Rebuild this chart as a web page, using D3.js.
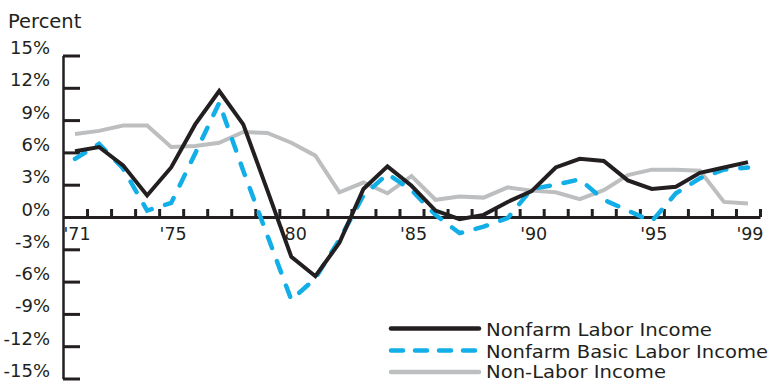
<!DOCTYPE html>
<html>
<head>
<meta charset="utf-8">
<script src="https://cdn.jsdelivr.net/npm/d3@7"></script>
<style>
  html, body { margin: 0; padding: 0; background: #fff; }
  svg { display: block; }
  text { font-family: "DejaVu Sans", sans-serif; fill: #231f20; }
</style>
</head>
<body>
<svg id="chart" width="773" height="382"></svg>
<script>
// ---- data ----
const years = [1971, 1972, 1973, 1974, 1975, 1976, 1977, 1978, 1979, 1980,
               1981, 1982, 1983, 1984, 1985, 1986, 1987, 1988, 1989, 1990,
               1991, 1992, 1993, 1994, 1995, 1996, 1997, 1998, 1999];
const nonfarmLabor = [6.1, 6.5, 4.8, 2.0, 4.6, 8.6, 11.7, 8.6, 2.5, -3.7,
                      -5.5, -2.4, 2.6, 4.7, 2.9, 0.6, -0.2, 0.2, 1.4, 2.4,
                      4.6, 5.4, 5.2, 3.4, 2.6, 2.8, 4.1, 4.6, 5.1];
const nonfarmBasic = [5.4, 6.8, 4.5, 0.6, 1.3, 5.9, 10.6, 4.3, -1.7, -7.7,
                      -5.7, -2.1, 2.0, 4.0, 2.5, 0.2, -1.5, -0.9, -0.1, 2.6,
                      3.0, 3.5, 1.6, 0.6, -0.4, 2.2, 3.6, 4.4, 4.6];
const nonLabor = [7.7, 8.0, 8.5, 8.5, 6.5, 6.6, 6.9, 7.9, 7.8, 6.9,
                  5.7, 2.3, 3.2, 2.2, 3.8, 1.6, 1.9, 1.8, 2.75, 2.45,
                  2.3, 1.65, 2.5, 3.9, 4.4, 4.4, 4.3, 1.4, 1.25];
const yTickValues = [15, 12, 9, 6, 3, 0, -3, -6, -9, -12, -15];
const xLabelYears = [1971, 1975, 1980, 1985, 1990, 1995, 1999];
const xLabels = ["'71", "'75", "'80", "'85", "'90", "'95", "'99"];
const seriesNames = ["Nonfarm Labor Income", "Nonfarm Basic Labor Income", "Non-Labor Income"];
const yAxisTitle = "Percent";

// ---- layout ----
const ink = "#231f20";
const colors = { labor: "#231f20", basic: "#12aee8", non: "#bdbec0" };
const svg = d3.select("#chart");

const x = d3.scaleLinear().domain([1971, 2000]).range([63, 760]);
const y = d3.scaleLinear().domain([-15, 15]).range([378.5, 55.5]);

// y axis
const yAxis = svg.append("g")
  .attr("transform", "translate(63,0)")
  .call(d3.axisLeft(y).tickValues(yTickValues).tickSizeInner(-17).tickSizeOuter(0)
    .tickPadding(13).tickFormat(d => d + "%"));
yAxis.select(".domain").attr("stroke", ink).attr("stroke-width", 2.5);
yAxis.selectAll(".tick line").attr("stroke", ink).attr("stroke-width", 3);
yAxis.selectAll(".tick text").attr("dy", "-2px").attr("font-size", 18)
  .attr("font-family", "DejaVu Sans").attr("fill", ink);

// x axis (through zero)
const xTickVals = d3.range(1972, 2001);
const xAxis = svg.append("g")
  .attr("transform", `translate(0,${y(0)})`)
  .call(d3.axisBottom(x).tickValues(xTickVals).tickSizeInner(-8).tickSizeOuter(0).tickFormat(""));
xAxis.select(".domain").attr("stroke", ink).attr("stroke-width", 3);
xAxis.selectAll(".tick line").attr("stroke", ink).attr("stroke-width", 3);

svg.append("g").selectAll("text").data(xLabelYears).join("text")
  .attr("x", d => x(d + 0.5) + 2)
  .attr("y", 240)
  .attr("text-anchor", "middle")
  .attr("font-size", 17.5)
  .text((d, i) => xLabels[i]);

// title
svg.append("text").attr("x", 8).attr("y", 28).attr("font-size", 19.5).text(yAxisTitle);

// lines
const line = vals => d3.line()
  .x((d, i) => x(years[i] + 0.5))
  .y(d => y(d))(vals);

svg.append("path").attr("d", line(nonLabor))
  .attr("fill", "none").attr("stroke", colors.non).attr("stroke-width", 4);
svg.append("path").attr("d", line(nonfarmBasic))
  .attr("fill", "none").attr("stroke", colors.basic).attr("stroke-width", 4.5)
  .attr("stroke-dasharray", "12,14").attr("stroke-linecap", "round");
svg.append("path").attr("d", line(nonfarmLabor))
  .attr("fill", "none").attr("stroke", colors.labor).attr("stroke-width", 4);

// legend
const legendRows = [
  { name: seriesNames[0], color: colors.labor, dash: null, ly: 328.5, ty: 336, len: 226 },
  { name: seriesNames[1], color: colors.basic, dash: "12,12", ly: 350.5, ty: 357.5, len: 282 },
  { name: seriesNames[2], color: colors.non, dash: null, ly: 372, ty: 378, len: 180 }
];
const lg = svg.append("g");
legendRows.forEach(r => {
  lg.append("line").attr("x1", 391).attr("x2", 479).attr("y1", r.ly).attr("y2", r.ly)
    .attr("stroke", r.color).attr("stroke-width", 4.5).attr("stroke-linecap", "round")
    .attr("stroke-dasharray", r.dash);
  lg.append("text").attr("x", 486).attr("y", r.ty).attr("font-size", 17.5)
    .attr("textLength", r.len).attr("lengthAdjust", "spacingAndGlyphs")
    .text(r.name);
});
</script>
</body>
</html>
